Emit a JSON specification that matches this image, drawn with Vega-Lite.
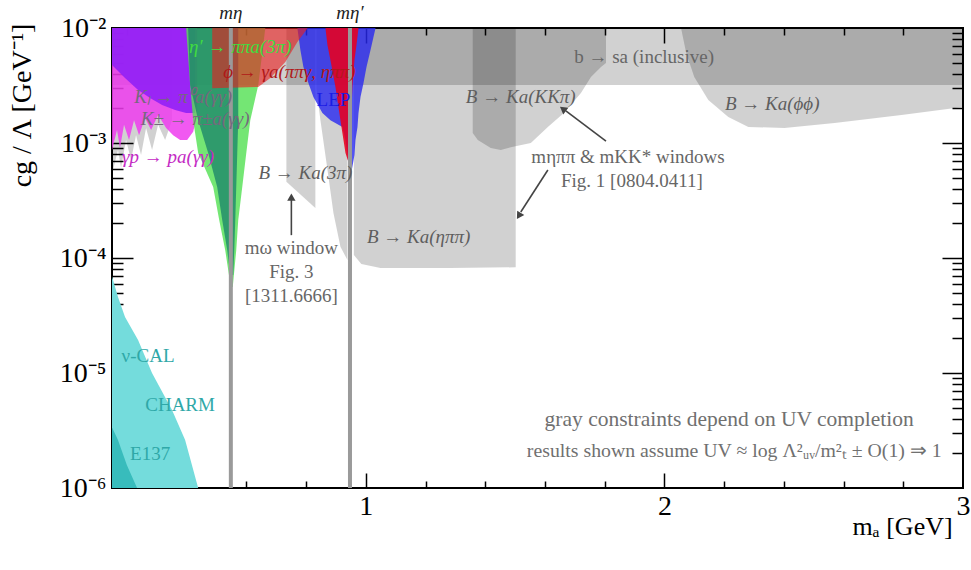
{
  "$schema": "https://vega.github.io/schema/vega-lite/v6.json",
  "width": 851,
  "height": 460,
  "autosize": {"type": "none"},
  "padding": {"left": 112, "top": 28, "right": 8, "bottom": 82},
  "background": "white",
  "config": {
    "view": {"stroke": "black", "strokeWidth": 2},
    "font": "Liberation Serif",
    "style": {"guide-label": {"font": "Liberation Serif"}, "guide-title": {"font": "Liberation Serif", "fontWeight": "normal"}},
    "axis": {"grid": false, "domain": false, "tickColor": "black", "tickWidth": 1.5, "labelFont": "Liberation Serif", "titleFont": "Liberation Serif", "labelColor": "black", "titleColor": "black", "titleFontWeight": "normal"}
  },
  "datasets": {
    "v": [
      {"r": "band", "x": 0.15, "lo": 0.00319, "hi": 0.01},
      {"r": "band", "x": 3.0, "lo": 0.00319, "hi": 0.01},
      {"r": "k3pi", "x": 0.734, "lo": 0.00046, "hi": 0.01},
      {"r": "k3pi", "x": 0.831, "lo": 0.000272, "hi": 0.01},
      {"r": "etaL", "x": 0.8346, "lo": 0.003, "hi": 0.01},
      {"r": "etaL", "x": 0.848, "lo": 0.00158, "hi": 0.01},
      {"r": "etaL", "x": 0.8717, "lo": 0.000582, "hi": 0.01},
      {"r": "etaL", "x": 0.8916, "lo": 0.000246, "hi": 0.01},
      {"r": "etaL", "x": 0.915, "lo": 0.000125, "hi": 0.01},
      {"r": "etaL", "x": 0.9386, "lo": 0.000096, "hi": 0.01},
      {"r": "etaR", "x": 0.96, "lo": 0.000106, "hi": 0.01},
      {"r": "etaR", "x": 0.985, "lo": 0.0000887, "hi": 0.01},
      {"r": "etaR", "x": 1.049, "lo": 0.0000819, "hi": 0.01},
      {"r": "etaR", "x": 1.284, "lo": 0.000082, "hi": 0.01},
      {"r": "etaR", "x": 1.502, "lo": 0.000083, "hi": 0.01},
      {"r": "kkpi", "x": 1.358, "lo": 0.00122, "hi": 0.01},
      {"r": "kkpi", "x": 1.375, "lo": 0.00106, "hi": 0.01},
      {"r": "kkpi", "x": 1.4185, "lo": 0.000905, "hi": 0.01},
      {"r": "kkpi", "x": 1.452, "lo": 0.00087, "hi": 0.01},
      {"r": "kkpi", "x": 1.4856, "lo": 0.00092, "hi": 0.01},
      {"r": "kkpi", "x": 1.5527, "lo": 0.001, "hi": 0.01},
      {"r": "kkpi", "x": 1.6097, "lo": 0.00138, "hi": 0.01},
      {"r": "kkpi", "x": 1.6634, "lo": 0.00182, "hi": 0.01},
      {"r": "kkpi", "x": 1.7205, "lo": 0.00272, "hi": 0.01},
      {"r": "kkpi", "x": 1.754, "lo": 0.00375, "hi": 0.01},
      {"r": "kkpi", "x": 1.7876, "lo": 0.00458, "hi": 0.01},
      {"r": "kkpi", "x": 1.8044, "lo": 0.00496, "hi": 0.01},
      {"r": "phiphi", "x": 2.056, "lo": 0.0099, "hi": 0.01},
      {"r": "phiphi", "x": 2.073, "lo": 0.00606, "hi": 0.01},
      {"r": "phiphi", "x": 2.1, "lo": 0.00375, "hi": 0.01},
      {"r": "phiphi", "x": 2.147, "lo": 0.00237, "hi": 0.01},
      {"r": "phiphi", "x": 2.214, "lo": 0.00168, "hi": 0.01},
      {"r": "phiphi", "x": 2.281, "lo": 0.00138, "hi": 0.01},
      {"r": "phiphi", "x": 2.402, "lo": 0.00135, "hi": 0.01},
      {"r": "phiphi", "x": 2.57, "lo": 0.00149, "hi": 0.01},
      {"r": "phiphi", "x": 2.794, "lo": 0.00175, "hi": 0.01},
      {"r": "phiphi", "x": 3.0, "lo": 0.00206, "hi": 0.01},
      {"r": "kgray", "x": 0.15, "lo": 0.000582, "hi": 0.01},
      {"r": "kgray", "x": 0.1534, "lo": 0.000582, "hi": 0.01},
      {"r": "kgray", "x": 0.1701, "lo": 0.00087, "hi": 0.01},
      {"r": "kgray", "x": 0.1802, "lo": 0.000606, "hi": 0.01},
      {"r": "kgray", "x": 0.197, "lo": 0.00106, "hi": 0.01},
      {"r": "kgray", "x": 0.2138, "lo": 0.000712, "hi": 0.01},
      {"r": "kgray", "x": 0.2305, "lo": 0.00117, "hi": 0.01},
      {"r": "kgray", "x": 0.2473, "lo": 0.000787, "hi": 0.01},
      {"r": "kgray", "x": 0.2641, "lo": 0.00135, "hi": 0.01},
      {"r": "kgray", "x": 0.2842, "lo": 0.00087, "hi": 0.01},
      {"r": "kgray", "x": 0.3044, "lo": 0.00144, "hi": 0.01},
      {"r": "kgray", "x": 0.3279, "lo": 0.00106, "hi": 0.01},
      {"r": "kgray", "x": 0.3513, "lo": 0.00158, "hi": 0.01},
      {"r": "kpm", "x": 0.15, "lo": 0.00087, "hi": 0.01},
      {"r": "kpm", "x": 0.1668, "lo": 0.0013, "hi": 0.01},
      {"r": "kpm", "x": 0.1768, "lo": 0.000905, "hi": 0.01},
      {"r": "kpm", "x": 0.1903, "lo": 0.00144, "hi": 0.01},
      {"r": "kpm", "x": 0.207, "lo": 0.00106, "hi": 0.01},
      {"r": "kpm", "x": 0.2238, "lo": 0.00158, "hi": 0.01},
      {"r": "kpm", "x": 0.2406, "lo": 0.00117, "hi": 0.01},
      {"r": "kpm", "x": 0.2607, "lo": 0.00165, "hi": 0.01},
      {"r": "kpm", "x": 0.2809, "lo": 0.0013, "hi": 0.01},
      {"r": "kpm", "x": 0.3044, "lo": 0.00175, "hi": 0.01},
      {"r": "kpm", "x": 0.3312, "lo": 0.00135, "hi": 0.01},
      {"r": "kpm", "x": 0.3547, "lo": 0.00117, "hi": 0.01},
      {"r": "kpm", "x": 0.3782, "lo": 0.00106, "hi": 0.01},
      {"r": "kpm", "x": 0.4017, "lo": 0.00106, "hi": 0.01},
      {"r": "kpm", "x": 0.4218, "lo": 0.00125, "hi": 0.01},
      {"r": "kpm", "x": 0.4352, "lo": 0.00175, "hi": 0.01},
      {"r": "kl", "x": 0.15, "lo": 0.00476, "hi": 0.01},
      {"r": "kl", "x": 0.1936, "lo": 0.00367, "hi": 0.01},
      {"r": "kl", "x": 0.2373, "lo": 0.00289, "hi": 0.01},
      {"r": "kl", "x": 0.2775, "lo": 0.00246, "hi": 0.01},
      {"r": "kl", "x": 0.3178, "lo": 0.00214, "hi": 0.01},
      {"r": "kl", "x": 0.3614, "lo": 0.00194, "hi": 0.01},
      {"r": "kl", "x": 0.3983, "lo": 0.00182, "hi": 0.01},
      {"r": "kl", "x": 0.4285, "lo": 0.00182, "hi": 0.01},
      {"r": "phi", "x": 0.4856, "lo": 0.003, "hi": 0.01},
      {"r": "phi", "x": 0.6399, "lo": 0.00307, "hi": 0.01},
      {"r": "phi", "x": 0.6802, "lo": 0.00367, "hi": 0.01},
      {"r": "phi", "x": 0.7305, "lo": 0.00506, "hi": 0.01},
      {"r": "phi", "x": 0.7708, "lo": 0.00755, "hi": 0.01},
      {"r": "phi", "x": 0.8044, "lo": 0.0099, "hi": 0.01}
    ],
    "h": [
      {"r": "cyan", "y": 0.0000684, "xl": 0.15, "xr": 0.1505},
      {"r": "cyan", "y": 0.0000644, "xl": 0.15, "xr": 0.1534},
      {"r": "cyan", "y": 0.0000458, "xl": 0.15, "xr": 0.1701},
      {"r": "cyan", "y": 0.0000307, "xl": 0.15, "xr": 0.1936},
      {"r": "cyan", "y": 0.0000194, "xl": 0.15, "xr": 0.2373},
      {"r": "cyan", "y": 0.00001, "xl": 0.15, "xr": 0.284},
      {"r": "cyan", "y": 0.00000477, "xl": 0.15, "xr": 0.351},
      {"r": "cyan", "y": 0.00000261, "xl": 0.15, "xr": 0.3949},
      {"r": "cyan", "y": 0.000001, "xl": 0.15, "xr": 0.4386},
      {"r": "e137", "y": 0.00000333, "xl": 0.15, "xr": 0.151},
      {"r": "e137", "y": 0.00000261, "xl": 0.15, "xr": 0.17},
      {"r": "e137", "y": 0.00000158, "xl": 0.15, "xr": 0.2},
      {"r": "e137", "y": 0.000001, "xl": 0.15, "xr": 0.234},
      {"r": "green", "y": 0.01, "xl": 0.3983, "xr": 0.6634},
      {"r": "green", "y": 0.00319, "xl": 0.4117, "xr": 0.6399},
      {"r": "green", "y": 0.00158, "xl": 0.4218, "xr": 0.6131},
      {"r": "green", "y": 0.000818, "xl": 0.4386, "xr": 0.5997},
      {"r": "green", "y": 0.000414, "xl": 0.4889, "xr": 0.5862},
      {"r": "green", "y": 0.000214, "xl": 0.509, "xr": 0.5728},
      {"r": "green", "y": 0.000117, "xl": 0.5292, "xr": 0.5661},
      {"r": "green", "y": 0.000056, "xl": 0.5477, "xr": 0.5544},
      {"r": "teal", "y": 0.01, "xl": 0.405, "xr": 0.5728},
      {"r": "teal", "y": 0.00319, "xl": 0.4117, "xr": 0.5728},
      {"r": "teal", "y": 0.00158, "xl": 0.4386, "xr": 0.5728},
      {"r": "teal", "y": 0.000818, "xl": 0.4721, "xr": 0.5695},
      {"r": "teal", "y": 0.000414, "xl": 0.5023, "xr": 0.5661},
      {"r": "teal", "y": 0.000214, "xl": 0.5191, "xr": 0.5628},
      {"r": "teal", "y": 0.000117, "xl": 0.5359, "xr": 0.5594},
      {"r": "teal", "y": 0.0000711, "xl": 0.546, "xr": 0.556},
      {"r": "lep", "y": 0.01, "xl": 0.7708, "xr": 1.0326},
      {"r": "lep", "y": 0.00644, "xl": 0.7809, "xr": 1.0158},
      {"r": "lep", "y": 0.00458, "xl": 0.791, "xr": 1.0023},
      {"r": "lep", "y": 0.00333, "xl": 0.8077, "xr": 0.9923},
      {"r": "lep", "y": 0.00251, "xl": 0.8245, "xr": 0.9822},
      {"r": "lep", "y": 0.00182, "xl": 0.8547, "xr": 0.9755},
      {"r": "lep", "y": 0.00158, "xl": 0.8815, "xr": 0.9738},
      {"r": "lep", "y": 0.00138, "xl": 0.9218, "xr": 0.9721},
      {"r": "lep", "y": 0.00106, "xl": 0.9319, "xr": 0.9654},
      {"r": "lep", "y": 0.000787, "xl": 0.9386, "xr": 0.962},
      {"r": "lep", "y": 0.000506, "xl": 0.9453, "xr": 0.949},
      {"r": "rede", "y": 0.01, "xl": 0.8648, "xr": 0.9755},
      {"r": "rede", "y": 0.00711, "xl": 0.8715, "xr": 0.9688},
      {"r": "rede", "y": 0.00528, "xl": 0.8815, "xr": 0.962},
      {"r": "rede", "y": 0.00307, "xl": 0.8983, "xr": 0.955},
      {"r": "rede", "y": 0.00158, "xl": 0.915, "xr": 0.951},
      {"r": "rede", "y": 0.000818, "xl": 0.9319, "xr": 0.949},
      {"r": "rede", "y": 0.000644, "xl": 0.945, "xr": 0.948}
    ],
    "lines": [{"m": 0.548}, {"m": 0.947}],
    "t": [
      {"k": "green", "s": "η′ → ππa(3π)", "x": 0.5795, "y": 0.00684},
      {"k": "red", "s": "ϕ → γa(ππγ, ηππ)", "x": 0.744, "y": 0.00414},
      {"k": "kaon", "s": "Kₗ → π⁰a(γγ)", "x": 0.388, "y": 0.00251},
      {"k": "kaon", "s": "K± → π±a(γγ)", "x": 0.4285, "y": 0.00162},
      {"k": "mag", "s": "γp → pa(γγ)", "x": 0.338, "y": 0.000755},
      {"k": "gray", "s": "B → Ka(3π)", "x": 0.7977, "y": 0.000548},
      {"k": "gray", "s": "B → Ka(ηππ)", "x": 1.177, "y": 0.000152},
      {"k": "gray", "s": "B → Ka(KKπ)", "x": 1.519, "y": 0.00251},
      {"k": "gray", "s": "B → Ka(ϕϕ)", "x": 2.361, "y": 0.00218},
      {"k": "top", "s": "mη", "x": 0.548, "y": 0.0135},
      {"k": "top", "s": "mη′", "x": 0.947, "y": 0.0135},
      {"k": "lep", "s": "LEP", "x": 0.8916, "y": 0.00237},
      {"k": "note", "s": "mω window", "x": 0.7507, "y": 0.000122},
      {"k": "note", "s": "Fig. 3", "x": 0.7507, "y": 0.0000755},
      {"k": "note", "s": "[1311.6666]", "x": 0.7507, "y": 0.0000468},
      {"k": "note", "s": "b → sa (inclusive)", "x": 1.932, "y": 0.0056},
      {"k": "note", "s": "mηππ & mKK* windows", "x": 1.878, "y": 0.000755},
      {"k": "note", "s": "Fig. 1 [0804.0411]", "x": 1.891, "y": 0.000468},
      {"k": "cyan", "s": "ν-CAL", "x": 0.2708, "y": 0.0000141},
      {"k": "cyan", "s": "CHARM", "x": 0.378, "y": 0.00000527},
      {"k": "cyan", "s": "E137", "x": 0.2775, "y": 0.00000198},
      {"k": "big", "s": "gray constraints depend on UV completion", "x": 2.217, "y": 0.0000039},
      {"k": "big2", "s": "results shown assume UV ≈ log Λ²ᵤᵥ/m²ₜ ± O(1) ⇒ 1", "x": 2.234, "y": 0.0000021}
    ],
    "arr": [
      {"id": 1, "x": 0.7507, "y": 0.000158, "x2": 0.7507, "y2": 0.000325},
      {"id": 2, "x": 1.8044, "y": 0.00104, "x2": 1.67, "y2": 0.0019},
      {"id": 3, "x": 1.6097, "y": 0.000582, "x2": 1.519, "y2": 0.000251}
    ],
    "heads": [
      {"id": 1, "x": 0.7507, "y": 0.000339},
      {"id": 2, "x": 1.66, "y": 0.00198},
      {"id": 3, "x": 1.5124, "y": 0.000232}
    ]
  },
  "resolve": {"axis": {"x": "independent", "y": "independent"}},
  "layer": [
    {
      "data": {"name": "v"},
      "transform": [{"filter": "datum.r == 'band'"}],
      "mark": {"type": "area", "orient": "vertical", "color": "#000000", "opacity": 0.18, "clip": true},
      "encoding": {
        "x": {"field": "x", "type": "quantitative", "scale": {"domain": [0.15, 3], "nice": false, "zero": false},
              "axis": {"orient": "bottom", "values": [1, 2, 3], "ticks": false, "labelFont": "Liberation Serif", "labelFontSize": 28, "labelPadding": 4, "labelFlush": false, "title": "mₐ [GeV]", "titleFont": "Liberation Serif", "titleFontWeight": "normal", "titleFontSize": 26, "titleX": 790, "titleY": 38, "titleAlign": "center", "titleBaseline": "middle"}},
        "y": {"field": "lo", "type": "quantitative", "scale": {"type": "log", "domain": [0.000001, 0.01], "nice": false},
              "axis": {"orient": "left", "values": [0.000001, 0.00001, 0.0001, 0.001, 0.01], "ticks": false, "labelFont": "Liberation Serif", "labelFontSize": 28, "labelPadding": 6, "labelFlush": false,
                       "labelExpr": "datum.value > 0.005 ? '10⁻²' : datum.value > 0.0005 ? '10⁻³' : datum.value > 0.00005 ? '10⁻⁴' : datum.value > 0.000005 ? '10⁻⁵' : '10⁻⁶'",
                       "title": "cg / Λ [GeV⁻¹]", "titleFont": "Liberation Serif", "titleFontWeight": "normal", "titleFontSize": 28, "titleX": -90, "titleY": 77, "titleAngle": -90, "titleAlign": "center", "titleBaseline": "middle"}},
        "y2": {"field": "hi"}
      }
    },
    {
      "data": {"name": "v"},
      "transform": [{"filter": "indexof(['k3pi','etaL','etaR','kkpi','phiphi','kgray'], datum.r) >= 0"}],
      "mark": {"type": "area", "orient": "vertical", "color": "#000000", "opacity": 0.18, "clip": true},
      "encoding": {
        "x": {"field": "x", "type": "quantitative", "scale": {"domain": [0.15, 3], "nice": false, "zero": false},
              "axis": {"orient": "bottom", "values": [1, 2], "tickSize": -15, "labels": false, "title": null}},
        "y": {"field": "lo", "type": "quantitative", "scale": {"type": "log", "domain": [0.000001, 0.01], "nice": false},
              "axis": {"orient": "left", "values": [0.00001, 0.0001, 0.001], "tickSize": -21, "labels": false, "title": null}},
        "y2": {"field": "hi"},
        "detail": {"field": "r"}
      }
    },
    {
      "data": {"name": "h"},
      "transform": [{"filter": "datum.r == 'cyan'"}],
      "mark": {"type": "area", "orient": "horizontal", "color": "#74dcdc", "opacity": 1, "clip": true},
      "encoding": {
        "y": {"field": "y", "type": "quantitative", "scale": {"type": "log", "domain": [0.000001, 0.01], "nice": false},
              "axis": {"orient": "left", "values": [0.000002,0.000003,0.000004,0.000005,0.000006,0.000007,0.000008,0.000009,0.00002,0.00003,0.00004,0.00005,0.00006,0.00007,0.00008,0.00009,0.0002,0.0003,0.0004,0.0005,0.0006,0.0007,0.0008,0.0009,0.002,0.003,0.004,0.005,0.006,0.007,0.008,0.009], "tickSize": -11, "labels": false, "title": null}},
        "x": {"field": "xl", "type": "quantitative", "scale": {"domain": [0.15, 3], "nice": false, "zero": false},
              "axis": {"orient": "bottom", "values": [0.2,0.4,0.6,0.8,1.2,1.4,1.6,1.8,2.2,2.4,2.6,2.8], "tickSize": -7, "labels": false, "title": null}},
        "x2": {"field": "xr"}
      }
    },
    {
      "data": {"name": "h"},
      "transform": [{"filter": "datum.r == 'e137'"}],
      "mark": {"type": "area", "orient": "horizontal", "color": "#38bcbc", "opacity": 1, "clip": true},
      "encoding": {
        "y": {"field": "y", "type": "quantitative", "scale": {"type": "log", "domain": [0.000001, 0.01], "nice": false},
              "axis": {"orient": "right", "values": [0.00001, 0.0001, 0.001], "tickSize": -21, "labels": false, "title": null}},
        "x": {"field": "xl", "type": "quantitative", "scale": {"domain": [0.15, 3], "nice": false, "zero": false},
              "axis": {"orient": "top", "values": [1, 2], "tickSize": -15, "labels": false, "title": null}},
        "x2": {"field": "xr"}
      }
    },
    {
      "data": {"name": "v"},
      "transform": [{"filter": "datum.r == 'kpm'"}],
      "mark": {"type": "area", "orient": "vertical", "color": "#ee3cee", "opacity": 0.85, "clip": true},
      "encoding": {
        "x": {"field": "x", "type": "quantitative", "scale": {"domain": [0.15, 3], "nice": false, "zero": false},
              "axis": {"orient": "top", "values": [0.2,0.4,0.6,0.8,1.2,1.4,1.6,1.8,2.2,2.4,2.6,2.8], "tickSize": -7, "labels": false, "title": null}},
        "y": {"field": "lo", "type": "quantitative", "scale": {"type": "log", "domain": [0.000001, 0.01], "nice": false},
              "axis": {"orient": "right", "values": [0.000002,0.000003,0.000004,0.000005,0.000006,0.000007,0.000008,0.000009,0.00002,0.00003,0.00004,0.00005,0.00006,0.00007,0.00008,0.00009,0.0002,0.0003,0.0004,0.0005,0.0006,0.0007,0.0008,0.0009,0.002,0.003,0.004,0.005,0.006,0.007,0.008,0.009], "tickSize": -11, "labels": false, "title": null}},
        "y2": {"field": "hi"}
      }
    },
    {
      "data": {"name": "v"},
      "transform": [{"filter": "datum.r == 'kl'"}],
      "mark": {"type": "area", "orient": "vertical", "color": "#9322f5", "opacity": 0.92, "clip": true},
      "encoding": {
        "x": {"field": "x", "type": "quantitative", "scale": {"domain": [0.15, 3], "nice": false, "zero": false}, "axis": null},
        "y": {"field": "lo", "type": "quantitative", "scale": {"type": "log", "domain": [0.000001, 0.01], "nice": false}, "axis": null},
        "y2": {"field": "hi"}
      }
    },
    {
      "data": {"name": "h"},
      "transform": [{"filter": "datum.r == 'green'"}],
      "mark": {"type": "area", "orient": "horizontal", "color": "#55e055", "opacity": 0.82, "clip": true},
      "encoding": {
        "y": {"field": "y", "type": "quantitative", "scale": {"type": "log", "domain": [0.000001, 0.01], "nice": false}, "axis": null},
        "x": {"field": "xl", "type": "quantitative", "scale": {"domain": [0.15, 3], "nice": false, "zero": false}, "axis": null},
        "x2": {"field": "xr"}
      }
    },
    {
      "data": {"name": "h"},
      "transform": [{"filter": "datum.r == 'teal'"}],
      "mark": {"type": "area", "orient": "horizontal", "color": "#127a6a", "opacity": 0.7, "clip": true},
      "encoding": {
        "y": {"field": "y", "type": "quantitative", "scale": {"type": "log", "domain": [0.000001, 0.01], "nice": false}, "axis": null},
        "x": {"field": "xl", "type": "quantitative", "scale": {"domain": [0.15, 3], "nice": false, "zero": false}, "axis": null},
        "x2": {"field": "xr"}
      }
    },
    {
      "data": {"name": "h"},
      "transform": [{"filter": "datum.r == 'lep'"}],
      "mark": {"type": "area", "orient": "horizontal", "color": "#2828f0", "opacity": 0.8, "clip": true},
      "encoding": {
        "y": {"field": "y", "type": "quantitative", "scale": {"type": "log", "domain": [0.000001, 0.01], "nice": false}, "axis": null},
        "x": {"field": "xl", "type": "quantitative", "scale": {"domain": [0.15, 3], "nice": false, "zero": false}, "axis": null},
        "x2": {"field": "xr"}
      }
    },
    {
      "data": {"name": "v"},
      "transform": [{"filter": "datum.r == 'phi'"}],
      "mark": {"type": "area", "orient": "vertical", "color": "#e81e1e", "opacity": 0.62, "clip": true},
      "encoding": {
        "x": {"field": "x", "type": "quantitative", "scale": {"domain": [0.15, 3], "nice": false, "zero": false}, "axis": null},
        "y": {"field": "lo", "type": "quantitative", "scale": {"type": "log", "domain": [0.000001, 0.01], "nice": false}, "axis": null},
        "y2": {"field": "hi"}
      }
    },
    {
      "data": {"name": "h"},
      "transform": [{"filter": "datum.r == 'rede'"}],
      "mark": {"type": "area", "orient": "horizontal", "color": "#e8001e", "opacity": 0.88, "clip": true},
      "encoding": {
        "y": {"field": "y", "type": "quantitative", "scale": {"type": "log", "domain": [0.000001, 0.01], "nice": false}, "axis": null},
        "x": {"field": "xl", "type": "quantitative", "scale": {"domain": [0.15, 3], "nice": false, "zero": false}, "axis": null},
        "x2": {"field": "xr"}
      }
    },
    {
      "data": {"name": "lines"},
      "mark": {"type": "rule", "color": "#9a9a9a", "strokeWidth": 4},
      "encoding": {
        "x": {"field": "m", "type": "quantitative", "scale": {"domain": [0.15, 3], "nice": false, "zero": false}, "axis": null}
      }
    },
    {
      "data": {"name": "t"},
      "transform": [{"filter": "indexof(['green','red','kaon','mag','gray','top'], datum.k) >= 0"}],
      "mark": {"type": "text", "font": "Liberation Serif", "fontStyle": "italic", "fontSize": 19, "align": "center", "baseline": "middle"},
      "encoding": {
        "x": {"field": "x", "type": "quantitative", "scale": {"domain": [0.15, 3], "nice": false, "zero": false}, "axis": null},
        "y": {"field": "y", "type": "quantitative", "scale": {"type": "log", "domain": [0.000001, 0.01], "nice": false}, "axis": null},
        "text": {"field": "s"},
        "color": {"field": "k", "type": "nominal", "legend": null,
                  "scale": {"domain": ["green", "red", "kaon", "mag", "gray", "top", "lep", "note", "cyan", "big", "big2"], "range": ["#40dc40", "#b01818", "#76687e", "#c42ac4", "#5e5e5e", "#222222", "#1c1ce6", "#666666", "#2fa8a8", "#707070", "#707070"]}}
      }
    },
    {
      "data": {"name": "t"},
      "transform": [{"filter": "indexof(['lep','note','cyan'], datum.k) >= 0"}],
      "mark": {"type": "text", "font": "Liberation Serif", "fontSize": 19, "align": "center", "baseline": "middle"},
      "encoding": {
        "x": {"field": "x", "type": "quantitative", "scale": {"domain": [0.15, 3], "nice": false, "zero": false}, "axis": null},
        "y": {"field": "y", "type": "quantitative", "scale": {"type": "log", "domain": [0.000001, 0.01], "nice": false}, "axis": null},
        "text": {"field": "s"},
        "color": {"field": "k", "type": "nominal", "legend": null,
                  "scale": {"domain": ["green", "red", "kaon", "mag", "gray", "top", "lep", "note", "cyan", "big", "big2"], "range": ["#40dc40", "#b01818", "#76687e", "#c42ac4", "#5e5e5e", "#222222", "#1c1ce6", "#666666", "#2fa8a8", "#707070", "#707070"]}}
      }
    },
    {
      "data": {"name": "t"},
      "transform": [{"filter": "datum.k == 'big'"}],
      "mark": {"type": "text", "font": "Liberation Serif", "fontSize": 21.5, "align": "center", "baseline": "middle"},
      "encoding": {
        "x": {"field": "x", "type": "quantitative", "scale": {"domain": [0.15, 3], "nice": false, "zero": false}, "axis": null},
        "y": {"field": "y", "type": "quantitative", "scale": {"type": "log", "domain": [0.000001, 0.01], "nice": false}, "axis": null},
        "text": {"field": "s"},
        "color": {"field": "k", "type": "nominal", "legend": null,
                  "scale": {"domain": ["green", "red", "kaon", "mag", "gray", "top", "lep", "note", "cyan", "big", "big2"], "range": ["#40dc40", "#b01818", "#76687e", "#c42ac4", "#5e5e5e", "#222222", "#1c1ce6", "#666666", "#2fa8a8", "#707070", "#707070"]}}
      }
    },
    {
      "data": {"name": "t"},
      "transform": [{"filter": "datum.k == 'big2'"}],
      "mark": {"type": "text", "font": "Liberation Serif", "fontSize": 19.8, "align": "center", "baseline": "middle"},
      "encoding": {
        "x": {"field": "x", "type": "quantitative", "scale": {"domain": [0.15, 3], "nice": false, "zero": false}, "axis": null},
        "y": {"field": "y", "type": "quantitative", "scale": {"type": "log", "domain": [0.000001, 0.01], "nice": false}, "axis": null},
        "text": {"field": "s"},
        "color": {"field": "k", "type": "nominal", "legend": null,
                  "scale": {"domain": ["green", "red", "kaon", "mag", "gray", "top", "lep", "note", "cyan", "big", "big2"], "range": ["#40dc40", "#b01818", "#76687e", "#c42ac4", "#5e5e5e", "#222222", "#1c1ce6", "#666666", "#2fa8a8", "#707070", "#707070"]}}
      }
    },
    {
      "data": {"name": "arr"},
      "mark": {"type": "rule", "color": "#444444", "strokeWidth": 1.6},
      "encoding": {
        "x": {"field": "x", "type": "quantitative", "scale": {"domain": [0.15, 3], "nice": false, "zero": false}, "axis": null},
        "y": {"field": "y", "type": "quantitative", "scale": {"type": "log", "domain": [0.000001, 0.01], "nice": false}, "axis": null},
        "x2": {"field": "x2"},
        "y2": {"field": "y2"}
      }
    },
    {
      "data": {"name": "heads"},
      "transform": [{"filter": "datum.id == 1"}],
      "mark": {"type": "point", "shape": "triangle-up", "filled": true, "color": "#444444", "opacity": 1, "size": 70, "angle": 0},
      "encoding": {
        "x": {"field": "x", "type": "quantitative", "scale": {"domain": [0.15, 3], "nice": false, "zero": false}, "axis": null},
        "y": {"field": "y", "type": "quantitative", "scale": {"type": "log", "domain": [0.000001, 0.01], "nice": false}, "axis": null}
      }
    },
    {
      "data": {"name": "heads"},
      "transform": [{"filter": "datum.id == 2"}],
      "mark": {"type": "point", "shape": "triangle-up", "filled": true, "color": "#444444", "opacity": 1, "size": 70, "angle": 307},
      "encoding": {
        "x": {"field": "x", "type": "quantitative", "scale": {"domain": [0.15, 3], "nice": false, "zero": false}, "axis": null},
        "y": {"field": "y", "type": "quantitative", "scale": {"type": "log", "domain": [0.000001, 0.01], "nice": false}, "axis": null}
      }
    },
    {
      "data": {"name": "heads"},
      "transform": [{"filter": "datum.id == 3"}],
      "mark": {"type": "point", "shape": "triangle-up", "filled": true, "color": "#444444", "opacity": 1, "size": 70, "angle": 212},
      "encoding": {
        "x": {"field": "x", "type": "quantitative", "scale": {"domain": [0.15, 3], "nice": false, "zero": false}, "axis": null},
        "y": {"field": "y", "type": "quantitative", "scale": {"type": "log", "domain": [0.000001, 0.01], "nice": false}, "axis": null}
      }
    }
  ]
}
